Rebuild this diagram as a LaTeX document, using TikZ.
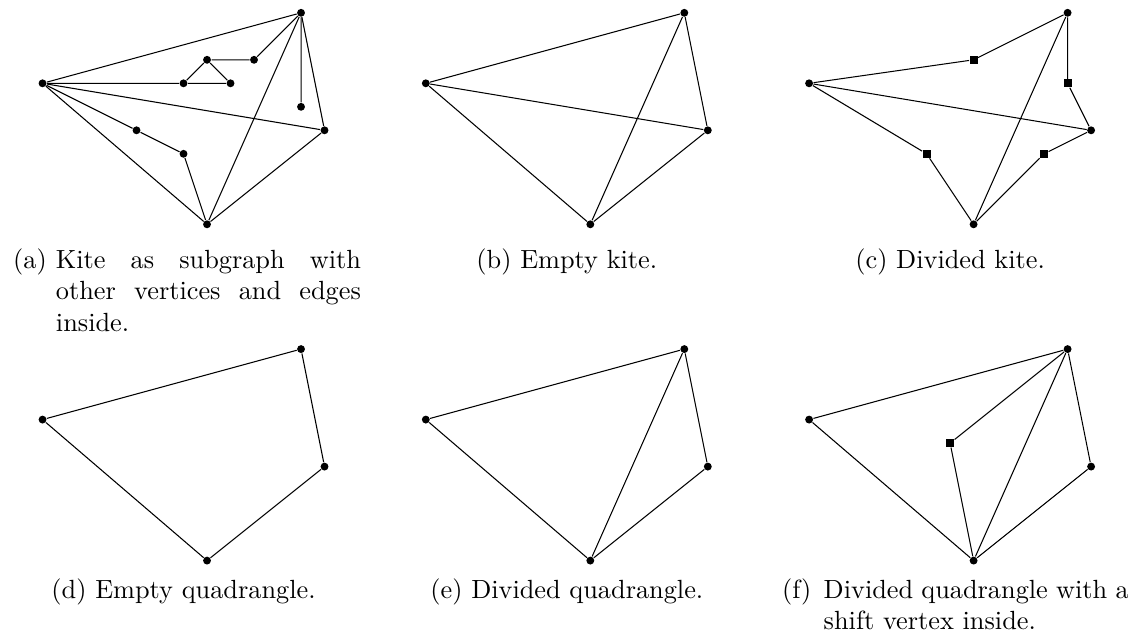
\documentclass[tikz,border=0pt]{standalone}
\usepackage{amsmath,amssymb}
\usepackage{tikz}
\usetikzlibrary{positioning}

\begin{document}
\begin{tikzpicture}[
    x=8.94pt, y=8.94pt,
    vertex/.style={circle, fill, inner sep=0pt, minimum size=3pt},
    divv/.style={rectangle, fill, inner sep=0pt, minimum size=3pt},
    subcap/.style={inner sep=0pt, anchor=base},
    sublabel/.style={inner sep=0pt, anchor=base west},
    subtext/.style={inner sep=0pt, anchor=base west, text width=116pt, align=justify,
                    execute at begin node={\hyphenpenalty=10000\relax}}
]
\useasboundingbox (-8.81,-17.82) rectangle (39.19,9.545);

% (a) kite with stuff inside
\node[vertex] (aB) at (0, 0) {};
\node[vertex] (aL) at (-7, 6) {};
\node[vertex] (aT) at (4, 9) {};
\node[vertex] (aR) at (5, 4) {};
\node[vertex] (a1) at (-1, 6) {};
\node[vertex] (a2) at (1, 6) {};
\node[vertex] (a3) at (0, 7) {};
\node[vertex] (a4) at (2, 7) {};
\node[vertex] (a5) at (4, 5) {};
\node[vertex] (a6) at (-3, 4) {};
\node[vertex] (a7) at (-1, 3) {};

\draw (aL) -- (aT) -- (aR) -- (aB) -- (aL);
\draw (aL) -- (aR);
\draw (aT) -- (aB);
\draw (aL) -- (a1) -- (a2) -- (a3) -- (a1);
\draw (a3) -- (a4) -- (aT) -- (a5);
\draw (aL) -- (a6) -- (a7) -- (aB);

\node[sublabel] (acapl) at (-8.27, -1.87) {(a)};
\node[subtext] (acap) at (-6.45, -1.87) {Kite as subgraph with other vertices and edges inside.};

% (b) empty kite
\begin{scope}[shift={(16.31, 0)}]
\node[vertex] (bB) at (0, 0) {};
\node[vertex] (bL) at (-7, 6) {};
\node[vertex] (bT) at (4, 9) {};
\node[vertex] (bR) at (5, 4) {};

\draw (bL) -- (bT) -- (bR) -- (bB) -- (bL);
\draw (bL) -- (bR);
\draw (bT) -- (bB);

\node[subcap] (bcap) at (-1, -1.87) {(b) Empty kite.};
\end{scope}

% (c) divided kite
\begin{scope}[shift={(32.62, 0)}]
\node[vertex] (cB) at (0, 0) {};
\node[vertex] (cL) at (-7, 6) {};
\node[vertex] (cT) at (4, 9) {};
\node[vertex] (cR) at (5, 4) {};
\node[divv] (c1) at (0, 7) {};
\node[divv] (c2) at (4, 6) {};
\node[divv] (c3) at (3, 3) {};
\node[divv] (c4) at (-2, 3) {};

\draw (cL) -- (c1) -- (cT) -- (c2) -- (cR) -- (c3) -- (cB) -- (c4) -- (cL);
\draw (cL) -- (cR);
\draw (cT) -- (cB);

\node[subcap] (ccap) at (-1, -1.87) {(c) Divided kite.};
\end{scope}

% (d) empty quadrangle
\begin{scope}[shift={(0, -14.31)}]
\node[vertex] (dB) at (0, 0) {};
\node[vertex] (dL) at (-7, 6) {};
\node[vertex] (dT) at (4, 9) {};
\node[vertex] (dR) at (5, 4) {};

\draw (dL) -- (dT) -- (dR) -- (dB) -- (dL);

\node[subcap] (dcap) at (-1, -1.6) {(d) Empty quadrangle.};
\end{scope}

% (e) divided quadrangle
\begin{scope}[shift={(16.31, -14.31)}]
\node[vertex] (eB) at (0, 0) {};
\node[vertex] (eL) at (-7, 6) {};
\node[vertex] (eT) at (4, 9) {};
\node[vertex] (eR) at (5, 4) {};

\draw (eL) -- (eT) -- (eR) -- (eB) -- (eL);
\draw (eT) -- (eB);

\node[subcap] (ecap) at (-1, -1.6) {(e) Divided quadrangle.};
\end{scope}

% (f) divided quadrangle, shift vertex
\begin{scope}[shift={(32.62, -14.31)}]
\node[vertex] (fB) at (0, 0) {};
\node[vertex] (fL) at (-7, 6) {};
\node[vertex] (fT) at (4, 9) {};
\node[vertex] (fR) at (5, 4) {};
\node[divv] (f1) at (-1, 5) {};

\draw (fL) -- (fT) -- (fR) -- (fB) -- (fL);
\draw (fT) -- (fB);
\draw (fT) -- (f1) -- (fB);

\node[sublabel] (fcapl) at (-8.17, -1.6) {(f)};
\node[subtext] (fcap) at (-6.4, -1.6) {Divided quadrangle with a shift vertex inside.};
\end{scope}

\end{tikzpicture}
\end{document}
